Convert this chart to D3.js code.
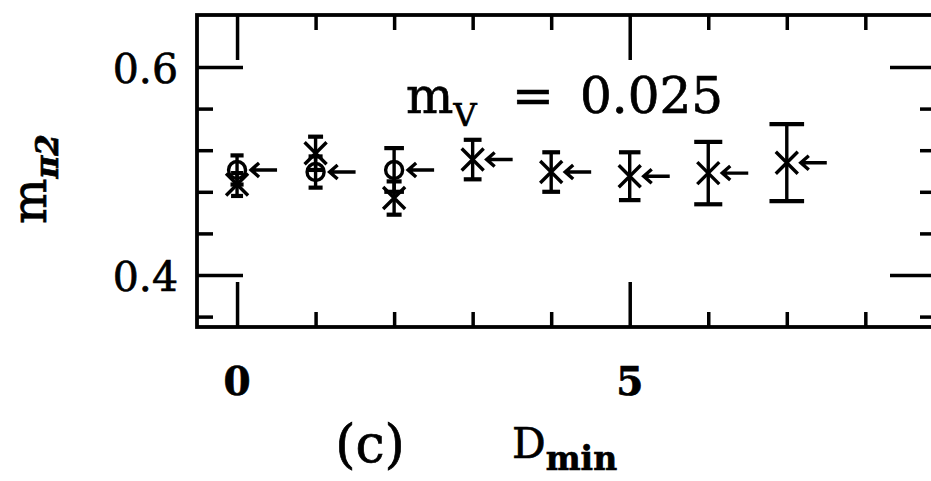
<!DOCTYPE html>
<html>
<head>
<meta charset="utf-8">
<script src="https://cdn.jsdelivr.net/npm/d3@7"></script>
<style>
  body { margin: 0; background: #fff; }
  svg { display: block; }
  .tick line { stroke: #000; stroke-width: 3.5; }
  .lbl { font-family: "DejaVu Serif", serif; fill: #000; stroke: #000; stroke-width: 0.7; }
</style>
</head>
<body>
<div id="chart"></div>
<script>
// D_min values and the two series (crosses for all, circles for the first three)
const dmin = [0, 1, 2, 3, 4, 5, 6, 7];
const crossVal = [0.487, 0.517, 0.474, 0.511, 0.499, 0.495, 0.498, 0.508];
const crossErr = [0.011, 0.016, 0.016, 0.019, 0.019, 0.023, 0.030, 0.037];
const circleD = [0, 1, 2];
const circleVal = [0.501, 0.499, 0.501];
const circleErr = [0.014, 0.015, 0.021];

// tick values
const xMajor = [0, 5];
const xMinor = [1, 2, 3, 4, 6, 7, 8];
const yMajor = [0.4, 0.6];
const yMinor = [0.36, 0.44, 0.48, 0.52, 0.56];
const xLabels = ["0", "5"];
const yLabels = ["0.4", "0.6"];

const W = 931, H = 481;
const svg = d3.select("#chart").append("svg")
    .attr("width", W)
    .attr("height", H);

const x = d3.scaleLinear().domain([-0.51, 8.9]).range([197, 936]);
const y = d3.scaleLinear().domain([0.35, 0.65]).range([327, 15]);

const x0 = x.range()[0], x1 = x.range()[1];
const y0 = y.range()[0], y1 = y.range()[1];

// frame
svg.append("rect")
    .attr("x", x0).attr("y", y1)
    .attr("width", x1 - x0).attr("height", y0 - y1)
    .attr("fill", "none").attr("stroke", "#000").attr("stroke-width", 3.8);

// inward ticks on all four sides (major long, minor short)
function ticks(axisFn, scale, vals, len, tx, ty) {
    svg.append("g")
        .attr("transform", "translate(" + tx + "," + ty + ")")
        .call(axisFn(scale).tickValues(vals).tickSize(len).tickFormat(""))
        .call(g => g.select(".domain").remove());
}
ticks(d3.axisTop, x, xMajor, 45, 0, y0);
ticks(d3.axisTop, x, xMinor, 15, 0, y0);
ticks(d3.axisBottom, x, xMajor, 45, 0, y1);
ticks(d3.axisBottom, x, xMinor, 15, 0, y1);
ticks(d3.axisRight, y, yMajor, 46, x0, 0);
ticks(d3.axisRight, y, yMinor, 16, x0, 0);
ticks(d3.axisLeft, y, yMajor, 46, x1, 0);
ticks(d3.axisLeft, y, yMinor, 16, x1, 0);

// tick labels
svg.selectAll(".ylab").data(yMajor).enter().append("text")
    .attr("class", "lbl")
    .attr("x", 178)
    .attr("y", d => y(d) + 16)
    .attr("text-anchor", "end")
    .style("font-size", "41px")
    .text((d, i) => yLabels[i]);

svg.selectAll(".xlab").data(xMajor).enter().append("text")
    .attr("class", "lbl")
    .attr("x", d => x(d))
    .attr("y", 395)
    .attr("text-anchor", "middle")
    .style("font-size", "39px")
    .style("font-weight", "bold")
    .text((d, i) => xLabels[i]);

// error bars
const stroke = 3.4;
function errorBars(ds, vals, errs) {
    const g = svg.append("g");
    ds.forEach((d, i) => {
        const cx = x(d);
        const top = y(vals[i] + errs[i]), bot = y(vals[i] - errs[i]);
        const cap = Math.max(6, 0.45 * (bot - top) / 2);
        g.append("line").attr("x1", cx).attr("x2", cx).attr("y1", top).attr("y2", bot)
            .attr("stroke", "#000").attr("stroke-width", stroke);
        [top, bot].forEach(yy => {
            g.append("line").attr("x1", cx - cap).attr("x2", cx + cap).attr("y1", yy).attr("y2", yy)
                .attr("stroke", "#000").attr("stroke-width", stroke + 0.8);
        });
    });
}
errorBars(dmin, crossVal, crossErr);
errorBars(circleD, circleVal, circleErr);

// cross symbols
const cs = 11;
dmin.forEach((d, i) => {
    const cx = x(d), cy = y(crossVal[i]);
    svg.append("path")
        .attr("d", `M${cx - cs},${cy - cs}L${cx + cs},${cy + cs}M${cx - cs},${cy + cs}L${cx + cs},${cy - cs}`)
        .attr("stroke", "#000").attr("stroke-width", stroke).attr("fill", "none");
});

// circle symbols
svg.selectAll(".circ").data(circleD).enter().append("circle")
    .attr("cx", d => x(d))
    .attr("cy", (d, i) => y(circleVal[i]))
    .attr("r", 8.5)
    .attr("fill", "none")
    .attr("stroke", "#000")
    .attr("stroke-width", stroke);

// arrows pointing at the circle where present, else at the cross
dmin.forEach((d, i) => {
    const ci = circleD.indexOf(d);
    const v = ci >= 0 ? circleVal[ci] : crossVal[i];
    const tip = x(d) + 14, cy = y(v);
    svg.append("path")
        .attr("d", `M${tip},${cy}L${tip + 26},${cy}M${tip + 8},${cy - 7}L${tip},${cy}L${tip + 8},${cy + 7}`)
        .attr("stroke", "#000").attr("stroke-width", stroke).attr("fill", "none");
});

// annotation m_V = 0.025
const ann = svg.append("text").attr("class", "lbl")
    .attr("x", 406).attr("y", 113)
    .style("font-size", "50px");
ann.append("tspan").text("m");
ann.append("tspan").attr("dy", 13).style("font-size", "32px").text("V");
ann.append("tspan").attr("dy", -13).attr("x", 512).text("=");
ann.append("tspan").attr("x", 580).text("0.025");

// x axis title
svg.append("text").attr("class", "lbl")
    .attr("x", 370).attr("y", 462)
    .attr("text-anchor", "middle")
    .style("font-size", "52px")
    .text("(c)");
const xt = svg.append("text").attr("class", "lbl")
    .attr("x", 512).attr("y", 458)
    .style("font-size", "42px");
xt.append("tspan").text("D");
xt.append("tspan").attr("dy", 12).style("font-size", "33px").style("font-weight", "bold").text("min");

// y axis title
const yt = svg.append("text").attr("class", "lbl")
    .attr("transform", "translate(46,224) rotate(-90)")
    .style("font-size", "48px");
yt.append("tspan").text("m");
yt.append("tspan").attr("dy", 12).style("font-size", "31px").style("font-weight", "bold")
    .style("font-style", "italic").text("π2");
</script>
</body>
</html>
